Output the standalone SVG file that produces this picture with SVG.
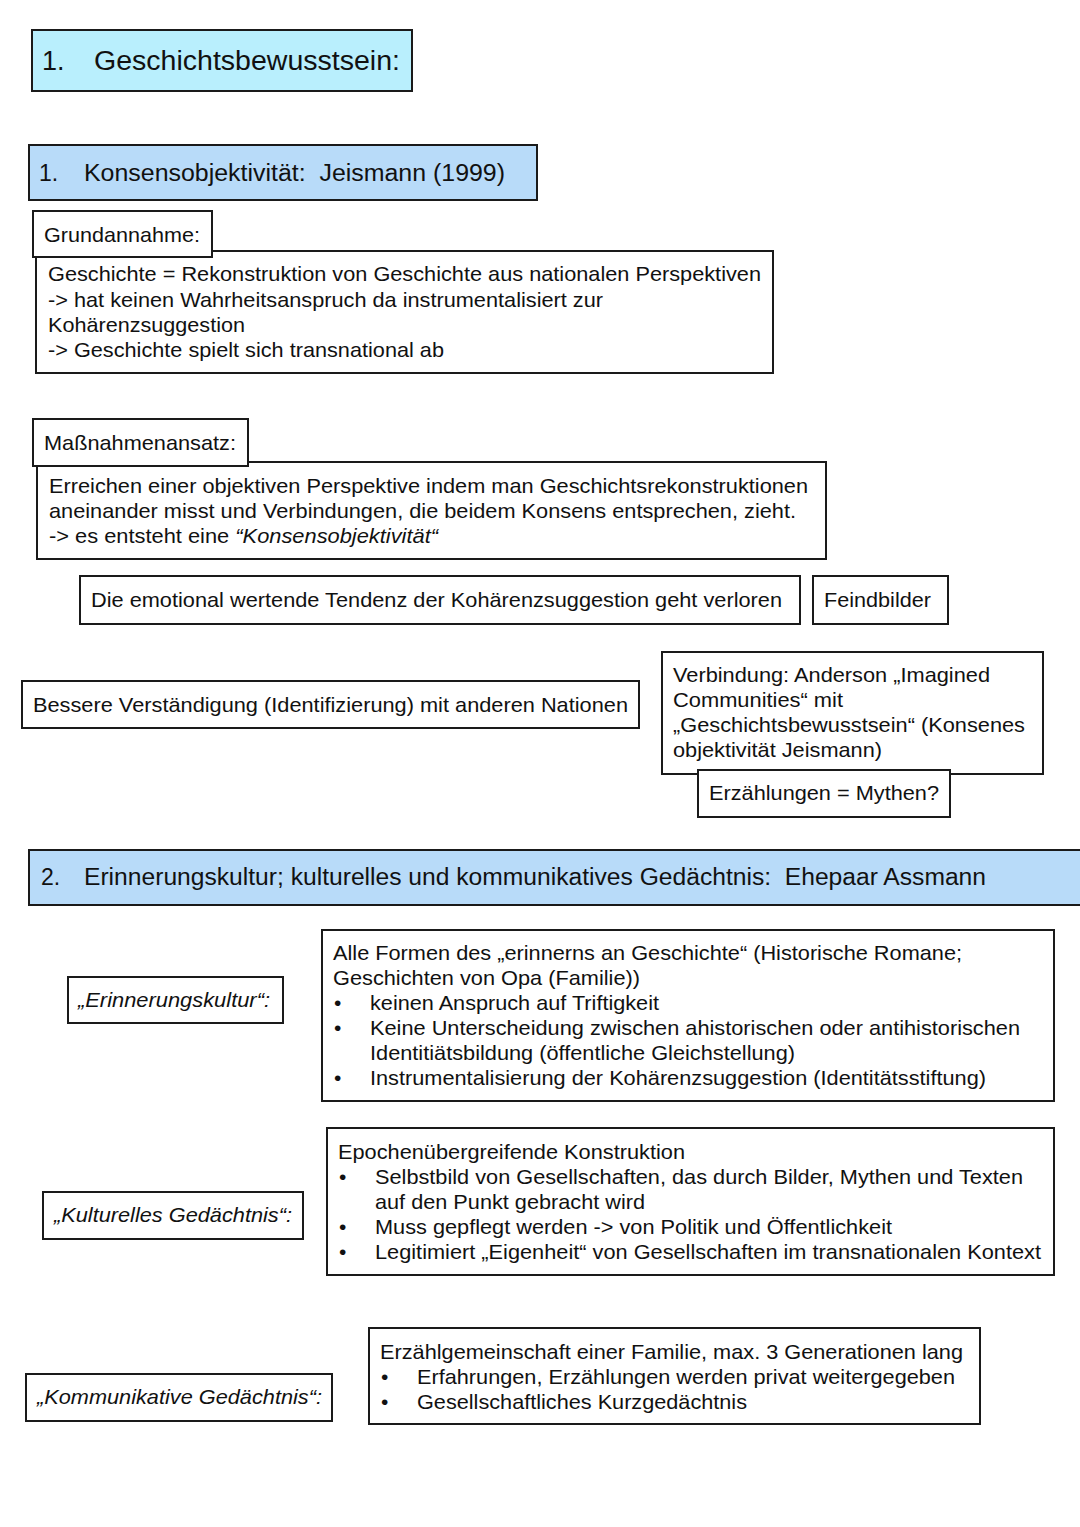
<svg xmlns="http://www.w3.org/2000/svg" width="1080" height="1527" viewBox="0 0 1080 1527">
<style>
.b{fill:#fff;stroke:#1a1a1a;stroke-width:2}
.h1{fill:#b9effd;stroke:#1a1a1a;stroke-width:2}
.h2{fill:#b8dbf9;stroke:#1a1a1a;stroke-width:2}
text{font-family:"Liberation Sans",Arial,sans-serif;fill:#111;font-size:21px}
.t{font-size:27px}
.s{font-size:23px}
.i{font-style:italic}
</style>
<rect width="1080" height="1527" fill="#fff"/>
<g id="title">
<rect class="h1" x="32" y="30" width="380" height="61"/>
<text class="t" x="42" y="70">1.</text>
<text class="t" x="94" y="70" textLength="306" lengthAdjust="spacingAndGlyphs">Geschichtsbewusstsein:</text>
</g>
<g id="sec1">
<rect class="h2" x="29" y="145" width="508" height="55"/>
<text class="s" x="39" y="181">1.</text>
<text class="s" x="84" y="181" textLength="421" lengthAdjust="spacingAndGlyphs">Konsensobjektivität:&#160; Jeismann (1999)</text>
</g>
<g id="grundannahme-text">
<rect class="b" x="36" y="251" width="737" height="122"/>
<text x="48" y="281" textLength="713" lengthAdjust="spacingAndGlyphs">Geschichte = Rekonstruktion von Geschichte aus nationalen Perspektiven</text>
<text x="48" y="307" textLength="555" lengthAdjust="spacingAndGlyphs">-&gt; hat keinen Wahrheitsanspruch da instrumentalisiert zur</text>
<text x="48" y="332" textLength="197" lengthAdjust="spacingAndGlyphs">Kohärenzsuggestion</text>
<text x="48" y="357" textLength="396" lengthAdjust="spacingAndGlyphs">-&gt; Geschichte spielt sich transnational ab</text>
</g>
<g id="grundannahme">
<rect class="b" x="33" y="211" width="179" height="46"/>
<text x="44" y="242" textLength="156" lengthAdjust="spacingAndGlyphs">Grundannahme:</text>
</g>
<g id="massnahmen-text">
<rect class="b" x="37" y="462" width="789" height="97"/>
<text x="49" y="493" textLength="759" lengthAdjust="spacingAndGlyphs">Erreichen einer objektiven Perspektive indem man Geschichtsrekonstruktionen</text>
<text x="49" y="518" textLength="747" lengthAdjust="spacingAndGlyphs">aneinander misst und Verbindungen, die beidem Konsens entsprechen, zieht.</text>
<text x="49" y="543" textLength="389" lengthAdjust="spacingAndGlyphs">-&gt; es entsteht eine <tspan class="i">“Konsensobjektivität“</tspan></text>
</g>
<g id="massnahmen">
<rect class="b" x="33" y="419" width="215" height="47"/>
<text x="44" y="450" textLength="192" lengthAdjust="spacingAndGlyphs">Maßnahmenansatz:</text>
</g>
<g id="tendenz">
<rect class="b" x="80" y="576" width="720" height="48"/>
<text x="91" y="607" textLength="691" lengthAdjust="spacingAndGlyphs">Die emotional wertende Tendenz der Kohärenzsuggestion geht verloren</text>
</g>
<g id="feindbilder">
<rect class="b" x="813" y="576" width="135" height="48"/>
<text x="824" y="607" textLength="107" lengthAdjust="spacingAndGlyphs">Feindbilder</text>
</g>
<g id="verstaendigung">
<rect class="b" x="22" y="681" width="617" height="47"/>
<text x="33" y="712" textLength="595" lengthAdjust="spacingAndGlyphs">Bessere Verständigung (Identifizierung) mit anderen Nationen</text>
</g>
<g id="verbindung">
<rect class="b" x="662" y="652" width="381" height="122"/>
<text x="673" y="682" textLength="317" lengthAdjust="spacingAndGlyphs">Verbindung: Anderson „Imagined</text>
<text x="673" y="707" textLength="170" lengthAdjust="spacingAndGlyphs">Communities“ mit</text>
<text x="673" y="732" textLength="352" lengthAdjust="spacingAndGlyphs">„Geschichtsbewusstsein“ (Konsenes</text>
<text x="673" y="757" textLength="209" lengthAdjust="spacingAndGlyphs">objektivität Jeismann)</text>
</g>
<g id="mythen">
<rect class="b" x="698" y="770" width="252" height="47"/>
<text x="709" y="800" textLength="230" lengthAdjust="spacingAndGlyphs">Erzählungen = Mythen?</text>
</g>
<g id="sec2">
<rect class="h2" x="29" y="850" width="1060" height="55"/>
<text class="s" x="41" y="885">2.</text>
<text class="s" x="84" y="885" textLength="902" lengthAdjust="spacingAndGlyphs">Erinnerungskultur; kulturelles und kommunikatives Gedächtnis:&#160; Ehepaar Assmann</text>
</g>
<g id="erinnerungskultur">
<rect class="b" x="68" y="977" width="215" height="46"/>
<text class="i" x="78" y="1007" textLength="192" lengthAdjust="spacingAndGlyphs">„Erinnerungskultur“:</text>
</g>
<g id="erinnerungskultur-text">
<rect class="b" x="322" y="930" width="732" height="171"/>
<text x="333" y="960" textLength="629" lengthAdjust="spacingAndGlyphs">Alle Formen des „erinnerns an Geschichte“ (Historische Romane;</text>
<text x="333" y="985" textLength="307" lengthAdjust="spacingAndGlyphs">Geschichten von Opa (Familie))</text>
<text x="334" y="1010">•</text>
<text x="370" y="1010" textLength="289" lengthAdjust="spacingAndGlyphs">keinen Anspruch auf Triftigkeit</text>
<text x="334" y="1035">•</text>
<text x="370" y="1035" textLength="650" lengthAdjust="spacingAndGlyphs">Keine Unterscheidung zwischen ahistorischen oder antihistorischen</text>
<text x="370" y="1060" textLength="425" lengthAdjust="spacingAndGlyphs">Identitiätsbildung (öffentliche Gleichstellung)</text>
<text x="334" y="1085">•</text>
<text x="370" y="1085" textLength="616" lengthAdjust="spacingAndGlyphs">Instrumentalisierung der Kohärenzsuggestion (Identitätsstiftung)</text>
</g>
<g id="kulturelles">
<rect class="b" x="43" y="1192" width="260" height="47"/>
<text class="i" x="54" y="1222" textLength="238" lengthAdjust="spacingAndGlyphs">„Kulturelles Gedächtnis“:</text>
</g>
<g id="kulturelles-text">
<rect class="b" x="327" y="1128" width="727" height="147"/>
<text x="338" y="1159" textLength="347" lengthAdjust="spacingAndGlyphs">Epochenübergreifende Konstruktion</text>
<text x="339" y="1184">•</text>
<text x="375" y="1184" textLength="648" lengthAdjust="spacingAndGlyphs">Selbstbild von Gesellschaften, das durch Bilder, Mythen und Texten</text>
<text x="375" y="1209" textLength="270" lengthAdjust="spacingAndGlyphs">auf den Punkt gebracht wird</text>
<text x="339" y="1234">•</text>
<text x="375" y="1234" textLength="517" lengthAdjust="spacingAndGlyphs">Muss gepflegt werden -&gt; von Politik und Öffentlichkeit</text>
<text x="339" y="1259">•</text>
<text x="375" y="1259" textLength="666" lengthAdjust="spacingAndGlyphs">Legitimiert „Eigenheit“ von Gesellschaften im transnationalen Kontext</text>
</g>
<g id="kommunikatives">
<rect class="b" x="26" y="1374" width="306" height="47"/>
<text class="i" x="37" y="1404" textLength="285" lengthAdjust="spacingAndGlyphs">„Kommunikative Gedächtnis“:</text>
</g>
<g id="kommunikatives-text">
<rect class="b" x="369" y="1328" width="611" height="96"/>
<text x="380" y="1359" textLength="583" lengthAdjust="spacingAndGlyphs">Erzählgemeinschaft einer Familie, max. 3 Generationen lang</text>
<text x="381" y="1384">•</text>
<text x="417" y="1384" textLength="538" lengthAdjust="spacingAndGlyphs">Erfahrungen, Erzählungen werden privat weitergegeben</text>
<text x="381" y="1409">•</text>
<text x="417" y="1409" textLength="330" lengthAdjust="spacingAndGlyphs">Gesellschaftliches Kurzgedächtnis</text>
</g>
<g id="connectors"></g>
</svg>
